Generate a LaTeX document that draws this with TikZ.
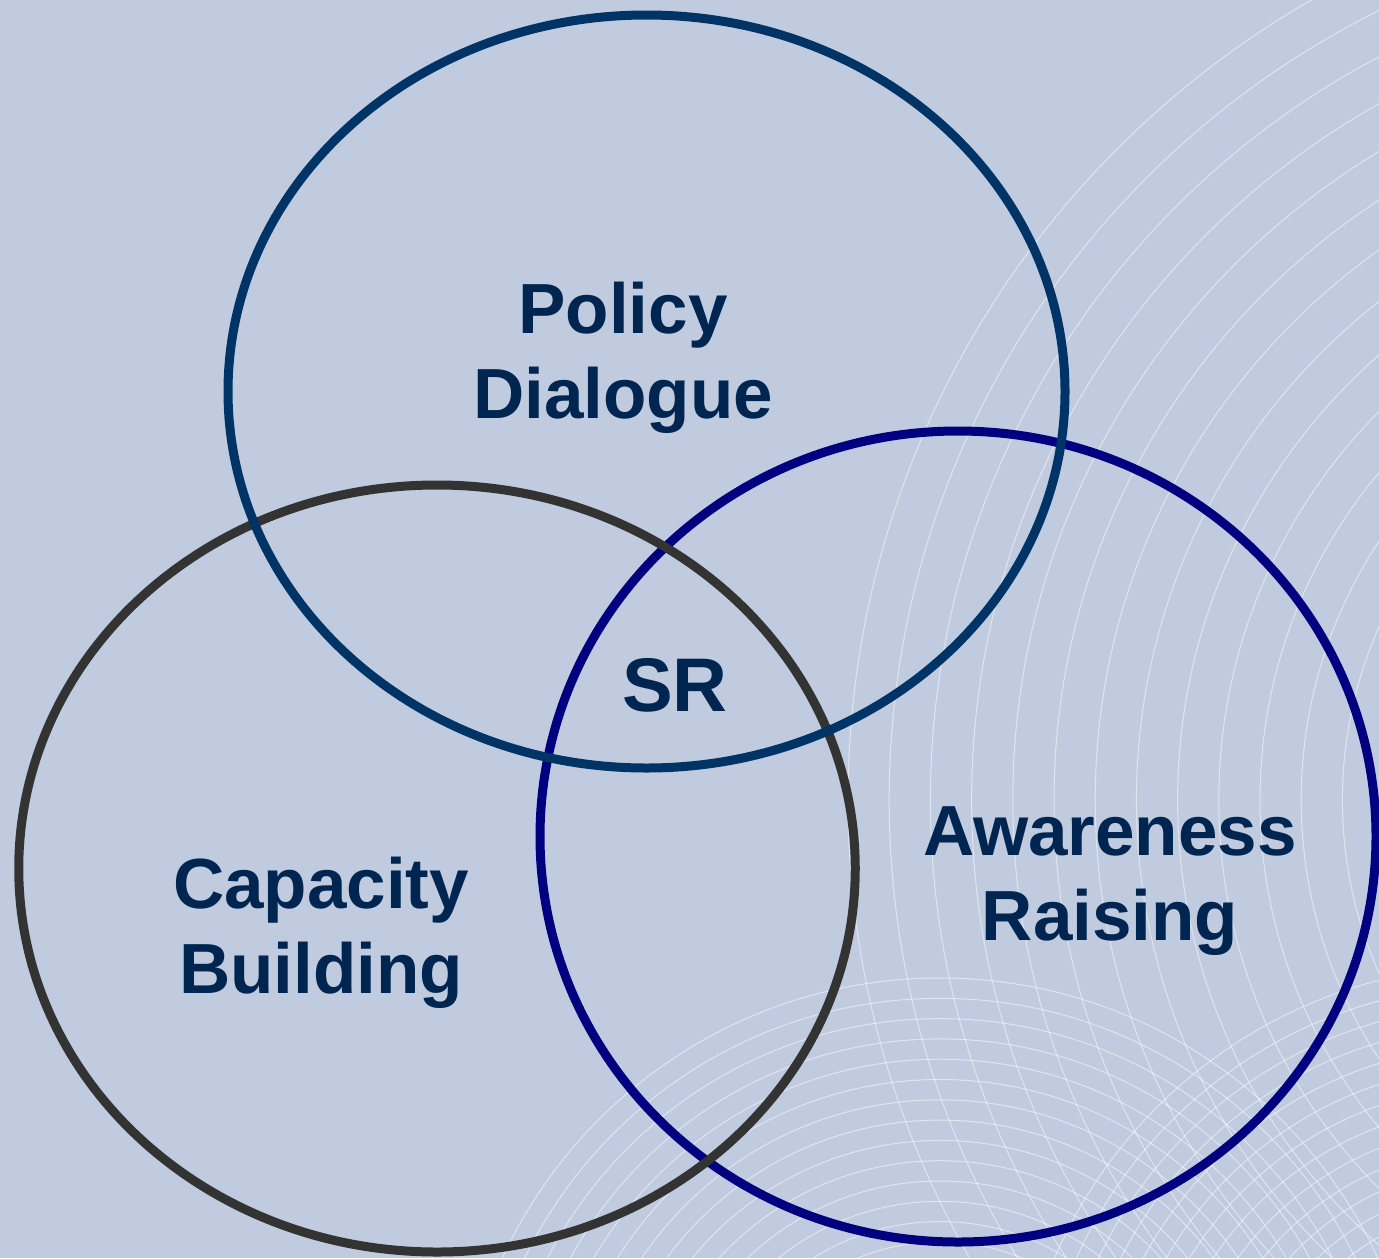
\documentclass[tikz,border=0pt]{standalone}
\usepackage{fontspec}
\setmainfont{Liberation Sans}
\usetikzlibrary{shapes.geometric}
\definecolor{bgblue}{RGB}{192,203,223}
\definecolor{policyblue}{RGB}{0,51,102}
\definecolor{capgray}{RGB}{51,51,51}
\definecolor{awarenavy}{RGB}{0,0,128}
\definecolor{textblue}{RGB}{0,37,80}

\begin{document}
\begin{tikzpicture}[x=0.5pt,y=-0.5pt,
    vennring/.style={ellipse, draw, line width=4.5pt, inner sep=0pt, outer sep=0pt},
    venntext/.style={text=textblue, font=\bfseries\fontsize{35.5pt}{42.5pt}\selectfont,
      align=center, inner sep=0pt},
    wave/.style={white, opacity=0.5, line width=0.5pt}]
  % Background
  \useasboundingbox (0,0) rectangle (1379,1258);
  \fill[bgblue] (0,0) rectangle (1379,1258);
  \clip (0,0) rectangle (1379,1258);

  % Faint arcs
  \foreach \k [evaluate=\k as \r using 922-41.2*\k] in {0,...,12}
    \draw[wave] (1770,800) circle[radius=\r];
  \foreach \k [evaluate=\k as \r using 482-20.3*\k] in {0,...,14}
    \draw[wave] (940,1460) circle[radius=\r];
  \foreach \k [evaluate=\k as \r using 485-20*\k] in {0,...,14}
    \draw[wave] (1500,1450) circle[radius=\r];

  % Rings
  \node (awareness) [vennring, draw=awarenavy, minimum width=418pt, minimum height=405.5pt] at (958,836.5) {};
  \node (capacity) [vennring, draw=capgray, minimum width=418.25pt, minimum height=383.5pt] at (437,868.5) {};
  \node (policy) [vennring, draw=policyblue, minimum width=418.5pt, minimum height=376.5pt] at (646.5,391.5) {};

  % Labels (base = last line)
  \node (policytext) [venntext, anchor=base] at (623,418) {Policy\\Dialogue};
  \node (capacitytext) [venntext, anchor=base] at (321,993) {Capacity\\Building};
  \node (awarenesstext) [venntext, anchor=base] at (1110,940) {Awareness\\Raising};
  \node (srtext) [venntext, anchor=base, font=\bfseries\fontsize{38pt}{45pt}\selectfont] at (675,711) {SR};
\end{tikzpicture}
\end{document}
